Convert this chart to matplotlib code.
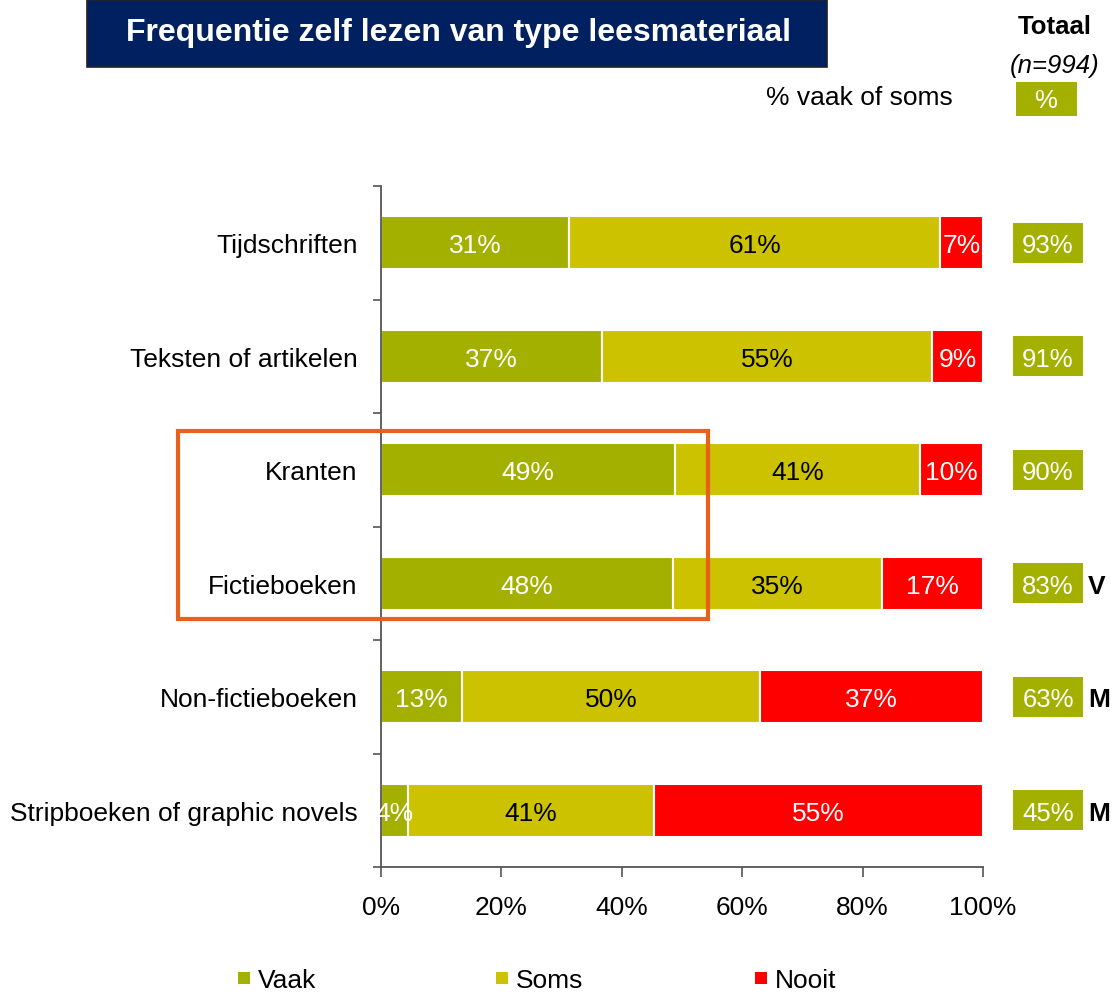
import matplotlib
matplotlib.use("Agg")
import matplotlib.pyplot as plt
from matplotlib.patches import Rectangle
import matplotlib.transforms as mtransforms

plt.rcParams['font.family'] = ['Liberation Sans', 'DejaVu Sans']

categories = ["Tijdschriften", "Teksten of artikelen", "Kranten", "Fictieboeken",
              "Non-fictieboeken", "Stripboeken of graphic novels"]
vaak = [31.2, 36.7, 48.8, 48.5, 13.5, 4.5]
soms = [61.7, 54.8, 40.7, 34.7, 49.5, 40.8]
nooit = [7.1, 8.5, 10.5, 16.8, 37.0, 54.7]
vaak_lbl = ["31%", "37%", "49%", "48%", "13%", "4%"]
soms_lbl = ["61%", "55%", "41%", "35%", "50%", "41%"]
nooit_lbl = ["7%", "9%", "10%", "17%", "37%", "55%"]
totaal = ["93%", "91%", "90%", "83%", "63%", "45%"]
signif = ["", "", "", "V", "M", "M"]
xticks = [0, 20, 40, 60, 80, 100]
series_names = ["Vaak", "Soms", "Nooit"]

C_VAAK = "#A3B000"
C_SOMS = "#CCC200"
C_NOOIT = "#FF0000"
NAVY = "#002060"
FS = 19

W, H = 1115, 995
fig = plt.figure(figsize=(W / 100, H / 100), dpi=100)

def fx(px):
    return px / W

def fy(py):
    return 1 - py / H

AX_L, AX_R, AX_T, AX_B = 381, 983, 187, 868
ax = fig.add_axes([fx(AX_L), fy(AX_B), fx(AX_R) - fx(AX_L), fy(AX_T) - fy(AX_B)])

y = list(range(len(categories)))
bh = 0.47
left = [0] * len(categories)
for vals, col, lbls, tcol in [(vaak, C_VAAK, vaak_lbl, "white"),
                              (soms, C_SOMS, soms_lbl, "black"),
                              (nooit, C_NOOIT, nooit_lbl, "white")]:
    ax.barh(y, vals, left=left, height=bh, color=col, edgecolor="white", linewidth=1.5)
    for i, (v, l) in enumerate(zip(vals, lbls)):
        ax.text(left[i] + v / 2, i + 0.02, l, ha="center", va="center", color=tcol, fontsize=FS)
    left = [a + b for a, b in zip(left, vals)]

ax.set_xlim(0, 100)
ax.set_ylim(len(categories) - 0.5, -0.5)
ax.set_xticks(xticks)
ax.set_xticklabels([f"{t}%" for t in xticks], fontsize=FS)
ax.set_yticks([i - 0.5 for i in range(len(categories) + 1)])
ax.set_yticklabels([])
ax.set_yticks(y, minor=True)
ax.set_yticklabels(categories, minor=True, fontsize=FS)
ax.tick_params(axis="y", which="minor", length=0, pad=17)
ax.tick_params(axis="y", which="major", length=6, width=1.2, color="#555555", direction="out")
ax.tick_params(axis="x", length=7, width=1.2, color="#555555", direction="out", pad=13)
for s in ["top", "right"]:
    ax.spines[s].set_visible(False)
for s in ["left", "bottom"]:
    ax.spines[s].set_color("#555555")
    ax.spines[s].set_linewidth(1.3)

# Totals column
axw = AX_R - AX_L
row_px = (AX_B - AX_T) / len(categories)
trans = mtransforms.blended_transform_factory(ax.transAxes, ax.transData)
box_l = 1 + (1013 - AX_R) / axw
box_w = 70 / axw
box_h = 40 / row_px
for i, (t, s) in enumerate(zip(totaal, signif)):
    ax.add_patch(Rectangle((box_l, i - box_h / 2), box_w, box_h, transform=trans,
                           facecolor=C_VAAK, edgecolor="none", clip_on=False))
    ax.text(box_l + box_w / 2, i + 0.02, t, transform=trans, ha="center", va="center",
            color="white", fontsize=FS - 0.5, clip_on=False)
    if s:
        ax.text(1 + (1088 - AX_R) / axw, i + 0.02, s, transform=trans, ha="left", va="center",
                color="black", fontsize=FS, fontweight="bold", clip_on=False)

# Title box
fig.patches.append(Rectangle((fx(87), fy(68)), fx(827) - fx(87), fy(1) - fy(68),
                             transform=fig.transFigure, facecolor=NAVY,
                             edgecolor="#222222", linewidth=1.2))
fig.text(fx(458), fy(33), "Frequentie zelf lezen van type leesmateriaal", ha="center",
         va="center", color="white", fontsize=23, fontweight="bold")

fig.text(fx(1055), fy(27), "Totaal", ha="center", va="center", fontsize=FS - 0.5, fontweight="bold")
fig.text(fx(1055), fy(66), "(n=994)", ha="center", va="center", fontsize=FS - 0.5, style="italic")
fig.text(fx(859), fy(98), "% vaak of soms", ha="center", va="center", fontsize=FS)
fig.patches.append(Rectangle((fx(1016), fy(117)), fx(1077) - fx(1016), fy(83) - fy(117),
                             transform=fig.transFigure, facecolor=C_VAAK, edgecolor="none"))
fig.text(fx(1046), fy(101), "%", ha="center", va="center", fontsize=FS - 0.5, color="white")

# Orange highlight rectangle
fig.patches.append(Rectangle((fx(178), fy(620)), fx(708) - fx(178), fy(432) - fy(620),
                             transform=fig.transFigure, facecolor="none",
                             edgecolor="#E8601C", linewidth=3, zorder=10))

# Legend
for name, col, px in zip(series_names, [C_VAAK, C_SOMS, C_NOOIT], [238, 496, 755]):
    fig.patches.append(Rectangle((fx(px), fy(985)), fx(12), 12 / H,
                                 transform=fig.transFigure, facecolor=col, edgecolor="none"))
    fig.text(fx(px + 20), fy(981), name, ha="left", va="center", fontsize=FS)

fig.savefig("out.png", dpi=100)
